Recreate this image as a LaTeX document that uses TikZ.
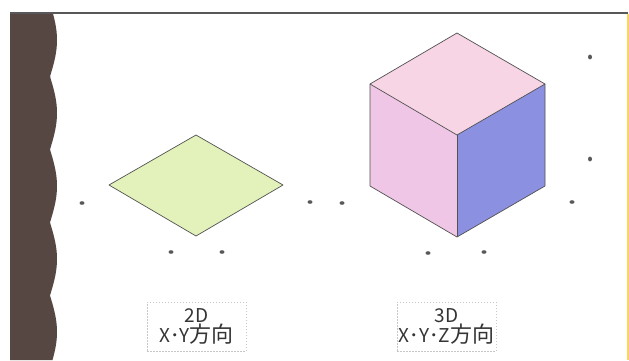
\documentclass[tikz,border=0pt]{standalone}
\usepackage{fontspec}
\newfontfamily\jpfont{Noto Sans CJK JP}
% the kanji are set a little larger than the latin letters
\newcommand{\kanji}[1]{{\fontsize{22}{20}\selectfont #1}}

\definecolor{strip}{RGB}{86,71,66}
\definecolor{rule}{RGB}{88,88,88}
\definecolor{edgeyellow}{RGB}{250,214,96}
\definecolor{leaf}{RGB}{226,242,186}
\definecolor{topface}{RGB}{247,213,229}
\definecolor{leftface}{RGB}{240,198,230}
\definecolor{rightface}{RGB}{140,144,224}
\definecolor{ink}{RGB}{52,52,52}

\begin{document}
\begin{tikzpicture}[x=1pt,y=-1pt,
	outline/.style={draw=ink!85,line width=0.7pt,line join=round},
	pin/.style={fill=rule},
	tag/.style={draw=black!22,dashed,dash pattern=on 1.5pt off 1.5pt,line width=0.5pt,
		minimum width=99pt,minimum height=49pt,align=center,text=ink,inner sep=0pt,
		font=\jpfont\fontsize{19}{19.5}\selectfont}]
	\useasboundingbox (0,0) rectangle (629,360);
	\fill[white] (0,0) rectangle (629,360);
	
	% scalloped strip on the left
	\fill[strip] (10,13) -- plot[variable=\t,domain=13:360,samples=200]
		({50+7*abs(sin((\t-3.5)/73*180))},\t) -- (10,360) -- cycle;
	\draw[rule,line width=2pt] (10,12.5) -- (628,12.5);
	\draw[edgeyellow,line width=2pt] (627.5,13.5) -- (627.5,360);
	
	% flat shape
	\coordinate (fT) at (196,135);
	\coordinate (fR) at (283,185);
	\coordinate (fB) at (196,236);
	\coordinate (fL) at (109,185);
	\fill[leaf] (fT) -- (fR) -- (fB) -- (fL) -- cycle;
	\draw[outline] (fT) -- (fR) -- (fB) -- (fL) -- cycle;
	
	% cube
	\coordinate (cT) at (457,33);
	\coordinate (cUL) at (370,84);
	\coordinate (cUR) at (545,84);
	\coordinate (cM) at (457,135);
	\coordinate (cLL) at (370,186);
	\coordinate (cLR) at (545,186);
	\coordinate (cB) at (457,237);
	\fill[topface] (cT) -- (cUR) -- (cM) -- (cUL) -- cycle;
	\fill[leftface] (cUL) -- (cM) -- (cB) -- (cLL) -- cycle;
	\fill[rightface] (cM) -- (cUR) -- (cLR) -- (cB) -- cycle;
	\draw[outline] (cT) -- (cUR) -- (cLR) -- (cB) -- (cLL) -- (cUL) -- cycle;
	\draw[outline] (cUL) -- (cM) -- (cUR);
	\draw[outline] (cM) -- (cB);
	
	% marker dots
	\fill[pin] (82,203) ellipse (2.5 and 1.8);
	\fill[pin] (171,252) ellipse (2.5 and 1.8);
	\fill[pin] (222,252) ellipse (2.5 and 1.8);
	\fill[pin] (310,202) ellipse (2.5 and 1.8);
	\fill[pin] (342,203) ellipse (2.5 and 1.8);
	\fill[pin] (428,253) ellipse (2.5 and 1.8);
	\fill[pin] (484,252) ellipse (2.5 and 1.8);
	\fill[pin] (572,202) ellipse (2.5 and 1.8);
	\fill[pin] (590,159) ellipse (2 and 2.4);
	\fill[pin] (590,57) ellipse (2 and 2.4);
	
	% captions
	\node[tag] (tag2d) at (196.5,326.5) {2D\\X･Y\kanji{方向}};
	\node[tag] (tag3d) at (446.5,326.5) {3D\\X･Y･Z\kanji{方向}};
\end{tikzpicture}
\end{document}
